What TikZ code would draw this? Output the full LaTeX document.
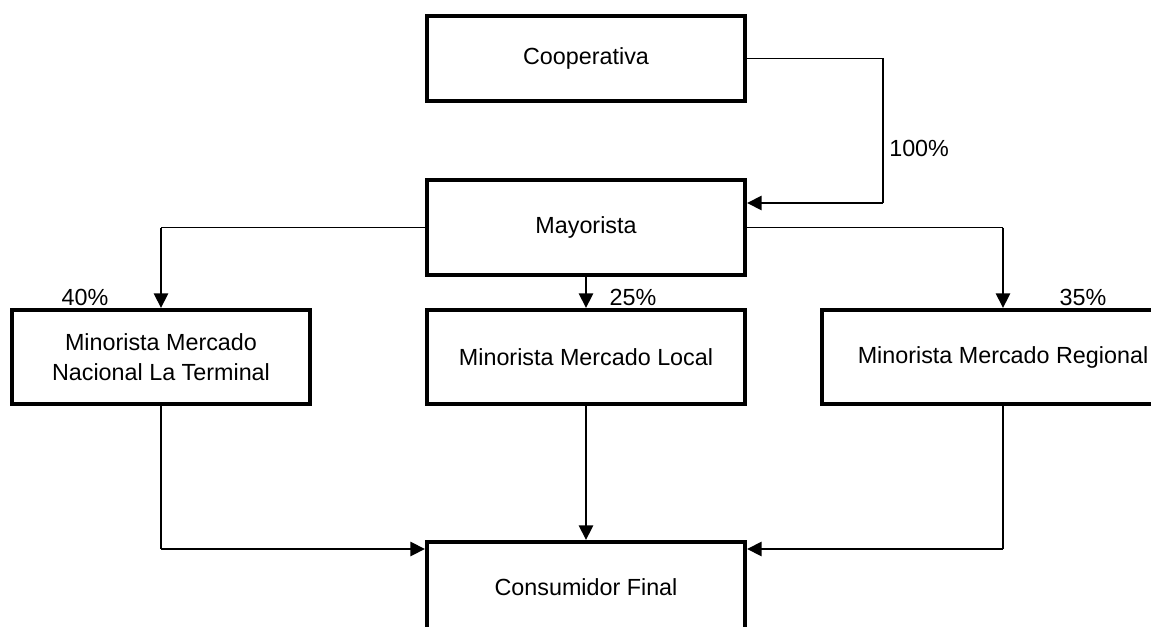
\documentclass[tikz,border=0pt]{standalone}
\usepackage{fontspec}
\setmainfont{Liberation Sans}
\usetikzlibrary{arrows.meta}
\tikzset{>={Triangle[length=11pt,width=10.5pt]}}
\tikzset{
  caja/.style={draw, line width=3pt, align=center, inner sep=0pt,
    font=\fontsize{17.5}{22.5}\selectfont},
  linea/.style={line width=0.9pt},
  flecha/.style={->, line width=2.2pt},
  pct/.style={inner sep=0pt, font=\fontsize{17.5}{21}\selectfont}
}

\begin{document}
\begin{tikzpicture}[x=0.75pt,y=0.75pt]
    \useasboundingbox (0,0) rectangle (1151,-627);
    \clip (0,0) rectangle (1151,-627);
    % cajas
    \node[caja, minimum width=238.5pt, minimum height=63.75pt] (coop) at (586,-58.5) {Cooperativa};
    \node[caja, minimum width=238.5pt, minimum height=71.25pt] (mayor) at (586,-227.5) {Mayorista};
    \node[caja, minimum width=223.5pt, minimum height=70.5pt] (nac) at (161,-357) {Minorista Mercado\\Nacional La Terminal};
    \node[caja, minimum width=238.5pt, minimum height=70.5pt] (local) at (586,-357) {Minorista Mercado Local};
    \node[caja, minimum width=271.5pt, minimum height=70.5pt] (reg) at (1003,-357) {Minorista Mercado Regional};
    \node[caja, minimum width=238.5pt, minimum height=67.5pt] (cons) at (586,-587) {Consumidor Final};
    % porcentajes
    \node[pct, anchor=west] (p100) at (889,-148) {100\%};
    \node[pct] (p40) at (85,-297) {40\%};
    \node[pct] (p25) at (633,-297) {25\%};
    \node[pct] (p35) at (1083,-297) {35\%};
    % conexiones
    \coordinate (k0) at (883,-203);
    \draw[linea] (coop.east) -| (k0);
    \draw[flecha] (k0) -- (k0 -| mayor.east);
    \coordinate (k1) at (nac.north |- mayor.west);
    \draw[linea] (mayor.west) -- (k1);
    \draw[flecha] (k1) -- (nac.north);
    \draw[flecha] (mayor.south) -- (local.north);
    \coordinate (k2) at (reg.north |- mayor.east);
    \draw[linea] (mayor.east) -- (k2);
    \draw[flecha] (k2) -- (reg.north);
    \coordinate (k3) at (nac.south |- 0,-549);
    \draw[linea] (nac.south) -- (k3);
    \draw[flecha] (k3) -- (k3 -| cons.west);
    \draw[flecha] (local.south) -- (cons.north);
    \coordinate (k4) at (reg.south |- 0,-549);
    \draw[linea] (reg.south) -- (k4);
    \draw[flecha] (k4) -- (k4 -| cons.east);
\end{tikzpicture}
\end{document}
